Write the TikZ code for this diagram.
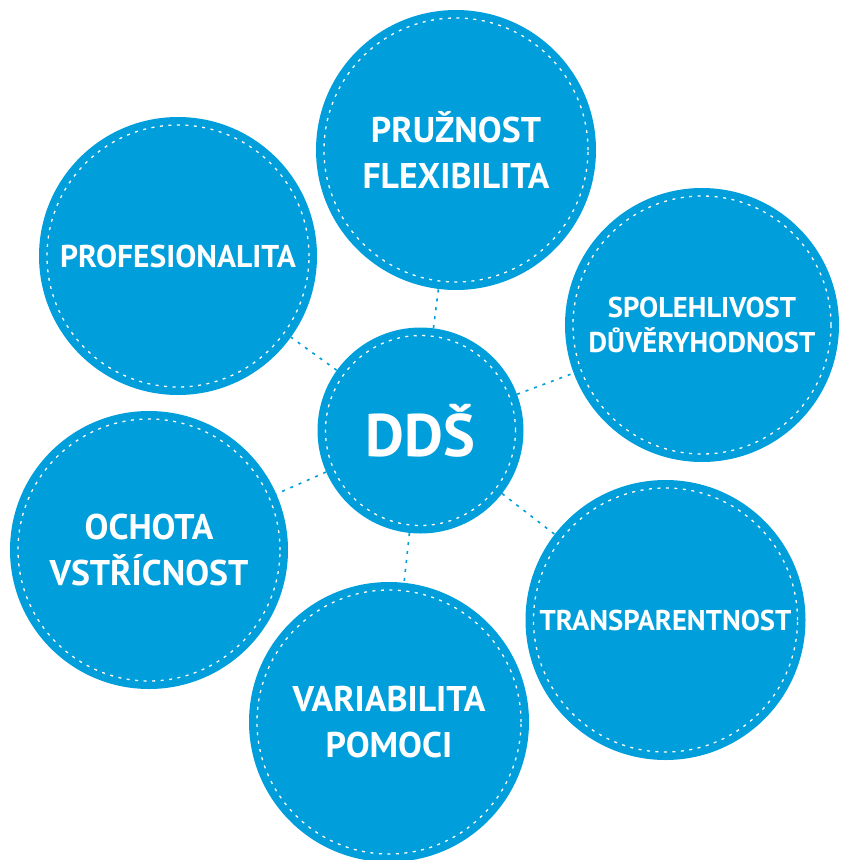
\documentclass[tikz,border=0pt]{standalone}
\usepackage{fontspec}
\setmainfont{PT Sans}
\definecolor{ddsblue}{RGB}{0,158,219}
\tikzset{
  bub/.style={circle, fill=ddsblue, draw=none, inner sep=0pt, text=white, align=center,
              font=\bfseries\fontsize{35.7}{46}\selectfont},
  smalltxt/.style={font=\bfseries\fontsize{28.6}{35}\selectfont},
  midtxt/.style={font=\bfseries\fontsize{31.5}{38}\selectfont},
  bigtxt/.style={font=\bfseries\fontsize{60}{66}\selectfont},
  ring/.style={draw=white, line width=1.3pt, dash pattern=on 3pt off 5.5pt},
  link/.style={draw=ddsblue, line width=1.6pt, dash pattern=on 3pt off 6pt}
}
\begin{document}
\begin{tikzpicture}[x=1pt,y=-1pt]
\useasboundingbox (0,0) rectangle (841,860);
% outer bubbles
\node[bub, minimum size=280pt] (pru) at (456,150) {PRUŽNOST\\FLEXIBILITA};
\node[bub, midtxt, minimum size=278pt] (pro) at (178,256) {PROFESIONALITA};
\node[bub, smalltxt, minimum size=274pt] (spo) at (702,325) {SPOLEHLIVOST\\DŮVĚRYHODNOST};
\node[bub, smalltxt, minimum size=280pt] (tra) at (665.5,620) {TRANSPARENTNOST};
\node[bub, minimum size=280pt] (var) at (389,722) {VARIABILITA\\POMOCI};
\node[bub, minimum size=278pt] (och) at (149,550) {OCHOTA\\VSTŘÍCNOST};
% centre
\node[bub, bigtxt, minimum size=206pt] (dds) at (420.5,430.5) {DDŠ};
% dotted rings
\draw[ring] (pru.center) circle (132pt);
\draw[ring] (pro.center) circle (131pt);
\draw[ring] (spo.center) circle (129pt);
\draw[ring] (tra.center) circle (132pt);
\draw[ring] (var.center) circle (132pt);
\draw[ring] (och.center) circle (131pt);
\draw[ring] (dds.center) circle (95pt);
% connectors
\draw[link] (dds) -- (pru);
\draw[link] (dds) -- (pro);
\draw[link] (dds) -- (spo);
\draw[link] (dds) -- (tra);
\draw[link] (dds) -- (var);
\draw[link] (dds) -- (och);
\end{tikzpicture}
\end{document}
